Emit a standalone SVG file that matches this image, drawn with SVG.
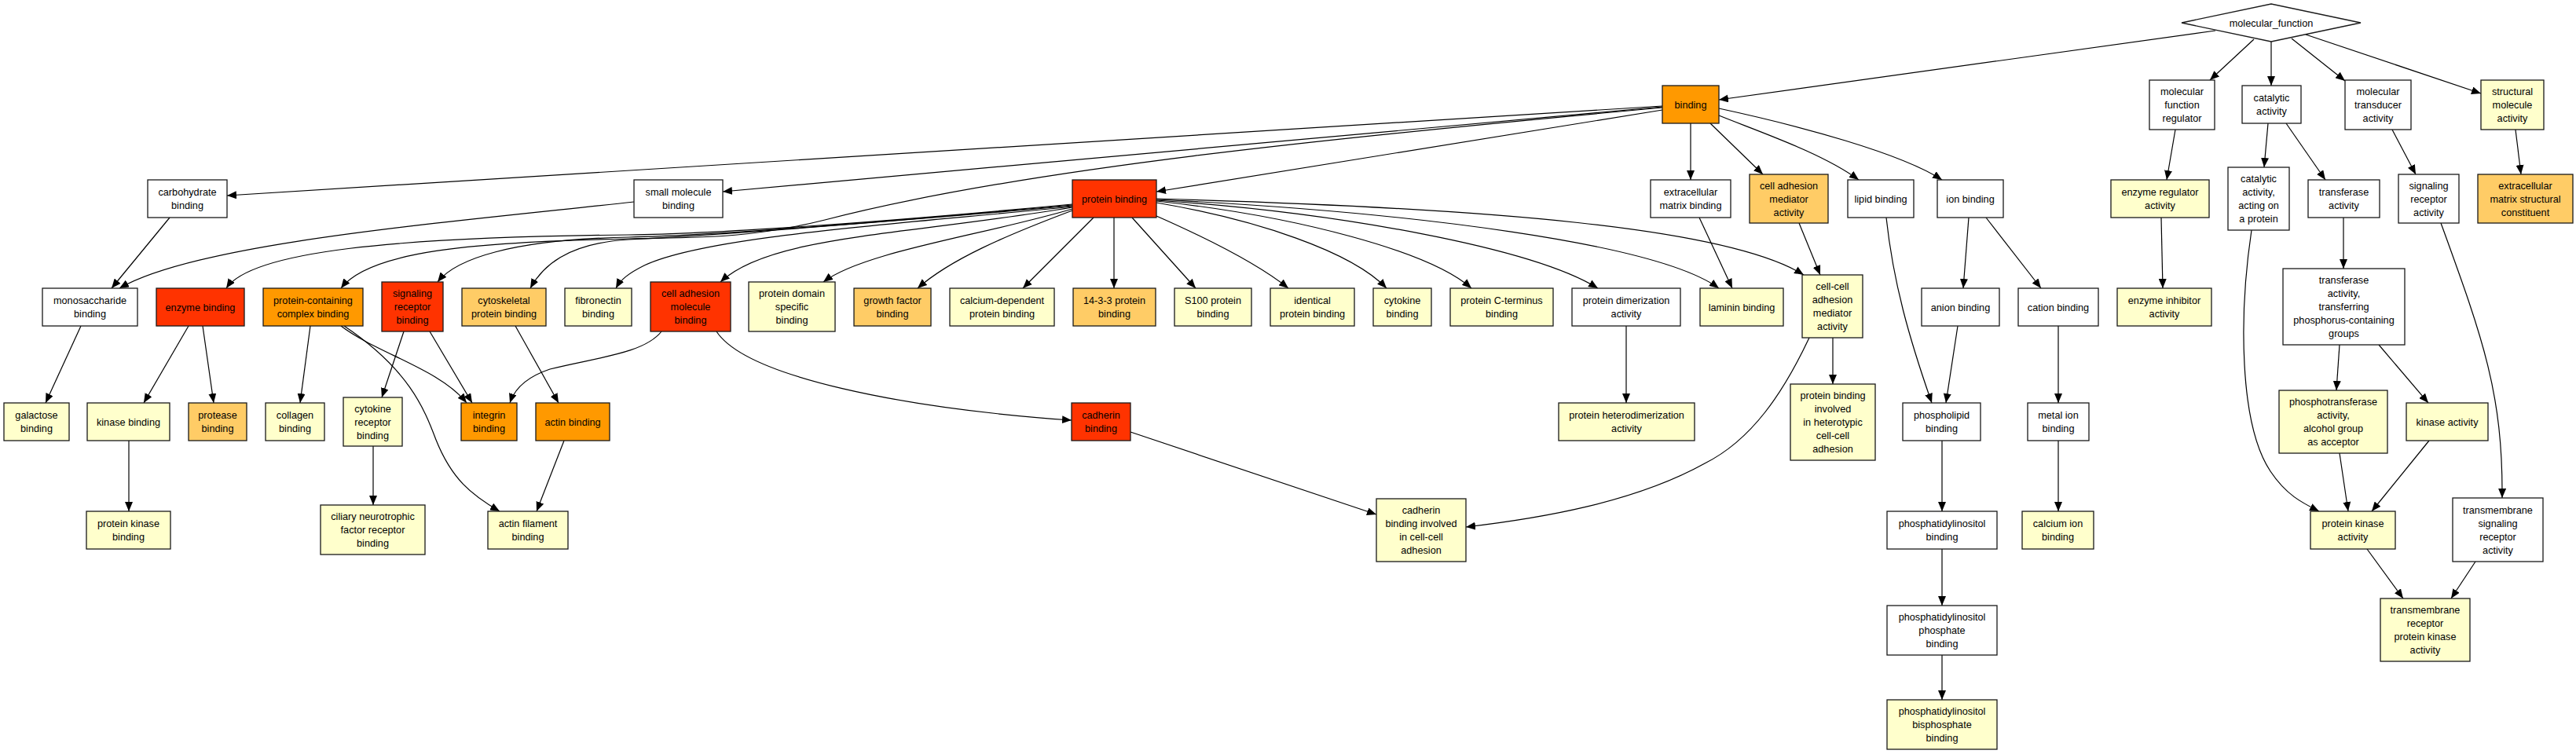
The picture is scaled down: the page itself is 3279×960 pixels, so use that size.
<svg xmlns="http://www.w3.org/2000/svg" width="3279" height="960" viewBox="0 0 3279 960">
<style>
.n rect,.n polygon{stroke:#1a1a1a;stroke-width:1.3}
.w{fill:#ffffff}.y{fill:#ffffcc}.l{fill:#ffcc66}.o{fill:#ff9900}.r{fill:#ff3300}
text{font-family:"Liberation Sans",Arial,sans-serif;font-size:12.7px;fill:#000;text-anchor:middle}
.e path{fill:none;stroke:#000;stroke-width:1.2;marker-end:url(#ah)}
</style>
<defs>
<marker id="ah" markerUnits="userSpaceOnUse" markerWidth="12" markerHeight="10" refX="12" refY="5" orient="auto"><path d="M0,0 L12,5 L0,10 z" fill="#000"/></marker>
</defs>
<rect width="3279" height="960" fill="#fff"/>
<g id="connectors" class="e">
<path d="M2820,39 L2188,127"/>
<path d="M2869,50 L2813,102"/>
<path d="M2891,53 L2891,109"/>
<path d="M2917,49 L2985,103"/>
<path d="M2935,44 L3158,119"/>
<path d="M2116,135 L289,249"/>
<path d="M2116,136 L920,244"/>
<path d="M2116,140 L1472,244"/>
<path d="M2116,137 C1700,175 1300,215 1050,280 C950,305 880,302 800,304 C600,308 470,320 434,367"/>
<path d="M2152,157 L2152,229"/>
<path d="M2177,157 L2244,222"/>
<path d="M2188,147 C2240,168 2320,195 2366,229"/>
<path d="M2188,138 C2290,160 2420,195 2472,229"/>
<path d="M1418,277 L1418,367"/>
<path d="M1441,277 L1522,367"/>
<path d="M1392,277 L1302,367"/>
<path d="M1472,275 C1540,305 1600,335 1640,367"/>
<path d="M1472,258 C1600,280 1720,320 1765,367"/>
<path d="M1472,256 C1650,275 1820,320 1873,367"/>
<path d="M1472,255 C1700,270 1950,315 2034,367"/>
<path d="M1472,254 C1800,270 2110,310 2188,367"/>
<path d="M1472,253 C1900,265 2200,290 2296,350"/>
<path d="M1365,268 C1280,300 1210,330 1168,367"/>
<path d="M1365,266 C1250,300 1100,320 1048,359"/>
<path d="M1365,264 C1150,300 980,300 917,359"/>
<path d="M1365,263 C1150,285 900,300 820,338 C800,348 790,356 784,367"/>
<path d="M1365,262 C1100,285 900,300 800,305 C720,310 690,340 675,367"/>
<path d="M1365,261 C1100,285 900,300 800,302 C650,305 580,330 557,359"/>
<path d="M1365,260 C1100,285 900,298 800,299 C500,302 320,320 288,367"/>
<path d="M807,257 C550,285 250,310 152,367"/>
<path d="M216,277 L142,367"/>
<path d="M103,415 L58,513"/>
<path d="M240,415 L183,513"/>
<path d="M258,415 L272,513"/>
<path d="M395,415 L382,513"/>
<path d="M434,415 C480,450 560,470 594,513"/>
<path d="M438,415 C520,470 540,520 555,560 C575,610 600,630 636,651"/>
<path d="M514,422 L486,506"/>
<path d="M547,422 L601,513"/>
<path d="M842,422 C820,450 760,455 700,470 C670,480 655,495 649,513"/>
<path d="M656,415 L711,513"/>
<path d="M164,561 L164,651"/>
<path d="M475,568 L475,643"/>
<path d="M718,561 L683,651"/>
<path d="M912,422 C950,480 1150,520 1364,535"/>
<path d="M1439,550 L1752,655"/>
<path d="M2303,430 C2270,500 2230,560 2170,590 C2080,640 1960,660 1866,671"/>
<path d="M2333,430 L2333,489"/>
<path d="M2290,284 L2317,350"/>
<path d="M2163,277 L2205,367"/>
<path d="M2070,415 L2070,513"/>
<path d="M2401,277 C2410,360 2430,430 2459,513"/>
<path d="M2492,415 L2477,513"/>
<path d="M2506,277 L2499,367"/>
<path d="M2528,277 L2598,367"/>
<path d="M2620,415 L2620,513"/>
<path d="M2620,561 L2620,651"/>
<path d="M2472,561 L2472,651"/>
<path d="M2472,699 L2472,771"/>
<path d="M2472,834 L2472,891"/>
<path d="M2769,165 L2758,229"/>
<path d="M2751,277 L2753,367"/>
<path d="M2887,157 L2882,213"/>
<path d="M2910,157 L2960,229"/>
<path d="M2983,277 L2983,342"/>
<path d="M2978,439 L2974,497"/>
<path d="M3028,439 L3091,513"/>
<path d="M2978,577 L2989,651"/>
<path d="M3092,561 L3019,651"/>
<path d="M2866,293 C2850,400 2850,540 2890,600 C2910,630 2930,640 2952,651"/>
<path d="M3045,165 L3075,222"/>
<path d="M3107,284 C3160,430 3186,500 3185,634"/>
<path d="M3151,715 L3120,762"/>
<path d="M3013,699 L3059,762"/>
<path d="M3202,165 L3209,222"/>
</g>
<g id="n_mf" class="n"><polygon class="w" points="2777,29 2891,5 3005,29 2891,53"/><text x="2891" y="33.5">molecular_function</text></g>
<g id="n_binding" class="n"><rect class="o" x="2116" y="109" width="72" height="48"/><text x="2152" y="137.5">binding</text></g>
<g id="n_mfr" class="n"><rect class="w" x="2736" y="102" width="83" height="63"/><text x="2777.5" y="121">molecular</text><text x="2777.5" y="138">function</text><text x="2777.5" y="155">regulator</text></g>
<g id="n_cat" class="n"><rect class="w" x="2854" y="109" width="75" height="48"/><text x="2891.5" y="129">catalytic</text><text x="2891.5" y="146">activity</text></g>
<g id="n_mta" class="n"><rect class="w" x="2985" y="102" width="84" height="63"/><text x="3027" y="121">molecular</text><text x="3027" y="138">transducer</text><text x="3027" y="155">activity</text></g>
<g id="n_sma" class="n"><rect class="y" x="3158" y="102" width="80" height="63"/><text x="3198" y="121">structural</text><text x="3198" y="138">molecule</text><text x="3198" y="155">activity</text></g>
<g id="n_carb" class="n"><rect class="w" x="188" y="229" width="101" height="48"/><text x="238.5" y="249">carbohydrate</text><text x="238.5" y="266">binding</text></g>
<g id="n_smb" class="n"><rect class="w" x="807" y="229" width="113" height="48"/><text x="863.5" y="249">small molecule</text><text x="863.5" y="266">binding</text></g>
<g id="n_pb" class="n"><rect class="r" x="1365" y="229" width="107" height="48"/><text x="1418.5" y="257.5">protein binding</text></g>
<g id="n_ecmb" class="n"><rect class="w" x="2101" y="229" width="102" height="48"/><text x="2152" y="249">extracellular</text><text x="2152" y="266">matrix binding</text></g>
<g id="n_cama" class="n"><rect class="l" x="2227" y="222" width="100" height="62"/><text x="2277" y="240.5">cell adhesion</text><text x="2277" y="257.5">mediator</text><text x="2277" y="274.5">activity</text></g>
<g id="n_lipid" class="n"><rect class="w" x="2352" y="229" width="84" height="48"/><text x="2394" y="257.5">lipid binding</text></g>
<g id="n_ion" class="n"><rect class="w" x="2466" y="229" width="84" height="48"/><text x="2508" y="257.5">ion binding</text></g>
<g id="n_era" class="n"><rect class="y" x="2687" y="229" width="125" height="48"/><text x="2749.5" y="249">enzyme regulator</text><text x="2749.5" y="266">activity</text></g>
<g id="n_cap" class="n"><rect class="w" x="2836" y="213" width="78" height="80"/><text x="2875" y="232">catalytic</text><text x="2875" y="249">activity,</text><text x="2875" y="266">acting on</text><text x="2875" y="283">a protein</text></g>
<g id="n_ta" class="n"><rect class="w" x="2938" y="229" width="91" height="48"/><text x="2983.5" y="249">transferase</text><text x="2983.5" y="266">activity</text></g>
<g id="n_sra" class="n"><rect class="w" x="3053" y="222" width="77" height="62"/><text x="3091.5" y="240.5">signaling</text><text x="3091.5" y="257.5">receptor</text><text x="3091.5" y="274.5">activity</text></g>
<g id="n_ecmsc" class="n"><rect class="l" x="3154" y="222" width="121" height="62"/><text x="3214.5" y="240.5">extracellular</text><text x="3214.5" y="257.5">matrix structural</text><text x="3214.5" y="274.5">constituent</text></g>
<g id="n_mono" class="n"><rect class="w" x="54" y="367" width="121" height="48"/><text x="114.5" y="387">monosaccharide</text><text x="114.5" y="404">binding</text></g>
<g id="n_enz" class="n"><rect class="r" x="199" y="367" width="112" height="48"/><text x="255" y="395.5">enzyme binding</text></g>
<g id="n_pccb" class="n"><rect class="o" x="335" y="367" width="127" height="48"/><text x="398.5" y="387">protein-containing</text><text x="398.5" y="404">complex binding</text></g>
<g id="n_srb" class="n"><rect class="r" x="486" y="359" width="78" height="63"/><text x="525" y="378">signaling</text><text x="525" y="395">receptor</text><text x="525" y="412">binding</text></g>
<g id="n_cyto" class="n"><rect class="l" x="588" y="367" width="107" height="48"/><text x="641.5" y="387">cytoskeletal</text><text x="641.5" y="404">protein binding</text></g>
<g id="n_fib" class="n"><rect class="y" x="719" y="367" width="85" height="48"/><text x="761.5" y="387">fibronectin</text><text x="761.5" y="404">binding</text></g>
<g id="n_camb" class="n"><rect class="r" x="828" y="359" width="102" height="63"/><text x="879" y="378">cell adhesion</text><text x="879" y="395">molecule</text><text x="879" y="412">binding</text></g>
<g id="n_pdsb" class="n"><rect class="y" x="953" y="359" width="110" height="63"/><text x="1008" y="378">protein domain</text><text x="1008" y="395">specific</text><text x="1008" y="412">binding</text></g>
<g id="n_gfb" class="n"><rect class="l" x="1087" y="367" width="98" height="48"/><text x="1136" y="387">growth factor</text><text x="1136" y="404">binding</text></g>
<g id="n_cdpb" class="n"><rect class="y" x="1209" y="367" width="133" height="48"/><text x="1275.5" y="387">calcium-dependent</text><text x="1275.5" y="404">protein binding</text></g>
<g id="n_1433" class="n"><rect class="l" x="1366" y="367" width="105" height="48"/><text x="1418.5" y="387">14-3-3 protein</text><text x="1418.5" y="404">binding</text></g>
<g id="n_s100" class="n"><rect class="y" x="1495" y="367" width="98" height="48"/><text x="1544" y="387">S100 protein</text><text x="1544" y="404">binding</text></g>
<g id="n_ident" class="n"><rect class="y" x="1617" y="367" width="107" height="48"/><text x="1670.5" y="387">identical</text><text x="1670.5" y="404">protein binding</text></g>
<g id="n_cytb" class="n"><rect class="y" x="1748" y="367" width="74" height="48"/><text x="1785" y="387">cytokine</text><text x="1785" y="404">binding</text></g>
<g id="n_cterm" class="n"><rect class="y" x="1846" y="367" width="131" height="48"/><text x="1911.5" y="387">protein C-terminus</text><text x="1911.5" y="404">binding</text></g>
<g id="n_dimer" class="n"><rect class="w" x="2001" y="367" width="138" height="48"/><text x="2070" y="387">protein dimerization</text><text x="2070" y="404">activity</text></g>
<g id="n_lam" class="n"><rect class="y" x="2164" y="367" width="106" height="48"/><text x="2217" y="395.5">laminin binding</text></g>
<g id="n_ccam" class="n"><rect class="y" x="2294" y="350" width="77" height="80"/><text x="2332.5" y="369">cell-cell</text><text x="2332.5" y="386">adhesion</text><text x="2332.5" y="403">mediator</text><text x="2332.5" y="420">activity</text></g>
<g id="n_anion" class="n"><rect class="w" x="2446" y="367" width="99" height="48"/><text x="2495.5" y="395.5">anion binding</text></g>
<g id="n_cation" class="n"><rect class="w" x="2569" y="367" width="102" height="48"/><text x="2620" y="395.5">cation binding</text></g>
<g id="n_eia" class="n"><rect class="y" x="2695" y="367" width="120" height="48"/><text x="2755" y="387">enzyme inhibitor</text><text x="2755" y="404">activity</text></g>
<g id="n_tp" class="n"><rect class="w" x="2906" y="342" width="155" height="97"/><text x="2983.5" y="361">transferase</text><text x="2983.5" y="378">activity,</text><text x="2983.5" y="395">transferring</text><text x="2983.5" y="412">phosphorus-containing</text><text x="2983.5" y="429">groups</text></g>
<g id="n_gal" class="n"><rect class="y" x="5" y="513" width="83" height="48"/><text x="46.5" y="533">galactose</text><text x="46.5" y="550">binding</text></g>
<g id="n_kb" class="n"><rect class="y" x="111" y="513" width="105" height="48"/><text x="163.5" y="541.5">kinase binding</text></g>
<g id="n_prot" class="n"><rect class="l" x="240" y="513" width="74" height="48"/><text x="277" y="533">protease</text><text x="277" y="550">binding</text></g>
<g id="n_coll" class="n"><rect class="y" x="338" y="513" width="75" height="48"/><text x="375.5" y="533">collagen</text><text x="375.5" y="550">binding</text></g>
<g id="n_crb" class="n"><rect class="y" x="437" y="506" width="75" height="62"/><text x="474.5" y="524.5">cytokine</text><text x="474.5" y="541.5">receptor</text><text x="474.5" y="558.5">binding</text></g>
<g id="n_int" class="n"><rect class="o" x="587" y="513" width="71" height="48"/><text x="622.5" y="533">integrin</text><text x="622.5" y="550">binding</text></g>
<g id="n_actb" class="n"><rect class="o" x="682" y="513" width="94" height="48"/><text x="729" y="541.5">actin binding</text></g>
<g id="n_cadb" class="n"><rect class="r" x="1364" y="513" width="75" height="48"/><text x="1401.5" y="533">cadherin</text><text x="1401.5" y="550">binding</text></g>
<g id="n_hetero" class="n"><rect class="y" x="1984" y="513" width="173" height="48"/><text x="2070.5" y="533">protein heterodimerization</text><text x="2070.5" y="550">activity</text></g>
<g id="n_pbih" class="n"><rect class="y" x="2279" y="489" width="108" height="97"/><text x="2333" y="508">protein binding</text><text x="2333" y="525">involved</text><text x="2333" y="542">in heterotypic</text><text x="2333" y="559">cell-cell</text><text x="2333" y="576">adhesion</text></g>
<g id="n_phl" class="n"><rect class="w" x="2422" y="513" width="99" height="48"/><text x="2471.5" y="533">phospholipid</text><text x="2471.5" y="550">binding</text></g>
<g id="n_metal" class="n"><rect class="w" x="2581" y="513" width="78" height="48"/><text x="2620" y="533">metal ion</text><text x="2620" y="550">binding</text></g>
<g id="n_ptf" class="n"><rect class="y" x="2901" y="497" width="138" height="80"/><text x="2970" y="516">phosphotransferase</text><text x="2970" y="533">activity,</text><text x="2970" y="550">alcohol group</text><text x="2970" y="567">as acceptor</text></g>
<g id="n_ka" class="n"><rect class="y" x="3063" y="513" width="104" height="48"/><text x="3115" y="541.5">kinase activity</text></g>
<g id="n_pkb" class="n"><rect class="y" x="110" y="651" width="107" height="48"/><text x="163.5" y="671">protein kinase</text><text x="163.5" y="688">binding</text></g>
<g id="n_cil" class="n"><rect class="y" x="408" y="643" width="133" height="63"/><text x="474.5" y="662">ciliary neurotrophic</text><text x="474.5" y="679">factor receptor</text><text x="474.5" y="696">binding</text></g>
<g id="n_afb" class="n"><rect class="y" x="621" y="651" width="102" height="48"/><text x="672" y="671">actin filament</text><text x="672" y="688">binding</text></g>
<g id="n_cbic" class="n"><rect class="y" x="1752" y="635" width="114" height="80"/><text x="1809" y="654">cadherin</text><text x="1809" y="671">binding involved</text><text x="1809" y="688">in cell-cell</text><text x="1809" y="705">adhesion</text></g>
<g id="n_pib" class="n"><rect class="w" x="2402" y="651" width="140" height="48"/><text x="2472" y="671">phosphatidylinositol</text><text x="2472" y="688">binding</text></g>
<g id="n_cai" class="n"><rect class="y" x="2574" y="651" width="91" height="48"/><text x="2619.5" y="671">calcium ion</text><text x="2619.5" y="688">binding</text></g>
<g id="n_pka" class="n"><rect class="y" x="2941" y="651" width="108" height="48"/><text x="2995" y="671">protein kinase</text><text x="2995" y="688">activity</text></g>
<g id="n_tsra" class="n"><rect class="w" x="3122" y="634" width="115" height="81"/><text x="3179.5" y="653.5">transmembrane</text><text x="3179.5" y="670.5">signaling</text><text x="3179.5" y="687.5">receptor</text><text x="3179.5" y="704.5">activity</text></g>
<g id="n_pip" class="n"><rect class="w" x="2402" y="771" width="140" height="63"/><text x="2472" y="790">phosphatidylinositol</text><text x="2472" y="807">phosphate</text><text x="2472" y="824">binding</text></g>
<g id="n_trpka" class="n"><rect class="y" x="3030" y="762" width="114" height="80"/><text x="3087" y="781">transmembrane</text><text x="3087" y="798">receptor</text><text x="3087" y="815">protein kinase</text><text x="3087" y="832">activity</text></g>
<g id="n_pip2" class="n"><rect class="y" x="2402" y="891" width="140" height="63"/><text x="2472" y="910">phosphatidylinositol</text><text x="2472" y="927">bisphosphate</text><text x="2472" y="944">binding</text></g>
</svg>
